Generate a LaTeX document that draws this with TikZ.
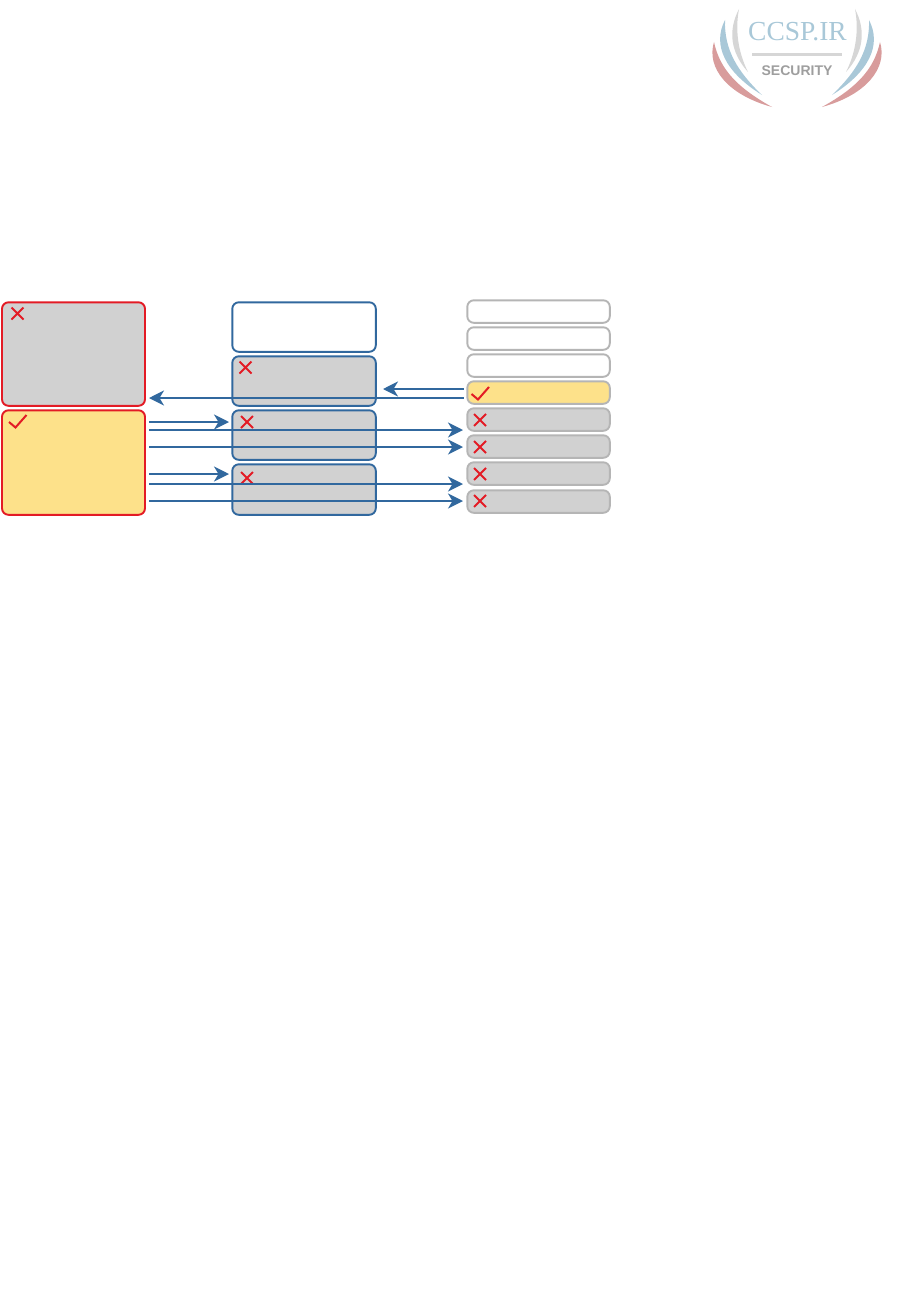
\documentclass[tikz,border=0pt]{standalone}
\usepackage{fontspec}
\setmainfont{Liberation Serif}
\newfontfamily\logosans{Liberation Sans}
\usetikzlibrary{arrows.meta}
\definecolor{cellgray}{HTML}{D1D1D1}
\definecolor{cellyellow}{HTML}{FDE18A}
\definecolor{markred}{HTML}{E31B25}
\definecolor{linkblue}{HTML}{31689E}
\definecolor{edgegray}{HTML}{B5B5B5}
\definecolor{logoblue}{HTML}{A9C8D8}
\definecolor{logored}{HTML}{D89C9C}
\definecolor{logogray}{HTML}{D6D6D6}
\tikzset{
  x=1pt,y=-1pt,
  cell/.style={draw,line width=1.9pt,rounded corners=6.5pt,anchor=north west,inner sep=0pt,outer sep=0pt},
  redcell/.style={cell,draw=markred,minimum width=143pt,minimum height=103.5pt},
  bluecell/.style={cell,draw=linkblue,minimum width=143.5pt,minimum height=49.5pt},
  graycell/.style={cell,draw=edgegray,minimum width=142.5pt,minimum height=22.5pt},
  link/.style={draw=linkblue,line width=1.8pt,-{Stealth[length=15pt,width=15pt,inset=4.5pt]}},
  xm/.pic={\draw[markred,line width=2pt] (-6,-6)--(6,6) (-6,6)--(6,-6);},
  ck/.pic={\draw[markred,line width=2pt] (-8.5,1)--(-2,6.5)--(9,-6);},
}
\begin{document}
\begin{tikzpicture}
\useasboundingbox (0,0) rectangle (909,1314);
% cells
\node[redcell,fill=cellgray] (r1) at (2,302.3) {};
\node[redcell,fill=cellyellow,minimum height=104.5pt] (r2) at (2,410.3) {};
\node[bluecell,fill=white] (b1) at (232.3,302.3) {};
\node[bluecell,fill=cellgray] (b2) at (232.3,356.3) {};
\node[bluecell,fill=cellgray] (b3) at (232.3,410.3) {};
\node[bluecell,fill=cellgray,minimum height=50.5pt] (b4) at (232.3,464.3) {};
\node[graycell,fill=white] (g1) at (467.3,300.3) {};
\node[graycell,fill=white] (g2) at (467.3,327.3) {};
\node[graycell,fill=white] (g3) at (467.3,354.3) {};
\node[graycell,fill=cellyellow] (g4) at (467.3,381.3) {};
\node[graycell,fill=cellgray] (g5) at (467.3,408.3) {};
\node[graycell,fill=cellgray] (g6) at (467.3,435.3) {};
\node[graycell,fill=cellgray] (g7) at (467.3,462.3) {};
\node[graycell,fill=cellgray] (g8) at (467.3,490.3) {};
% marks
\pic at (17.5,313.5) {xm};
\pic at (17.5,421) {ck};
\pic at (245.5,367.5) {xm};
\pic at (247,422) {xm};
\pic at (247,478) {xm};
\pic at (480,393) {ck};
\pic at (480,420) {xm};
\pic at (480,447) {xm};
\pic at (480,474) {xm};
\pic at (480,501) {xm};
% connector ends
\coordinate (e1) at (463.5,389); \coordinate (t1) at (383,389);
\coordinate (e2) at (463.5,398); \coordinate (t2) at (149,398);
\coordinate (s3) at (149,422); \coordinate (t3) at (229,422);
\coordinate (s4) at (149,430); \coordinate (t4) at (463,430);
\coordinate (s5) at (149,447); \coordinate (t5) at (463,447);
\coordinate (s6) at (149,474); \coordinate (t6) at (229,474);
\coordinate (s7) at (149,484); \coordinate (t7) at (463,484);
\coordinate (s8) at (149,501); \coordinate (t8) at (463,501);
\draw[link] (e1) -- (t1);
\draw[link] (e2) -- (t2);
\draw[link] (s3) -- (t3);
\draw[link] (s4) -- (t4);
\draw[link] (s5) -- (t5);
\draw[link] (s6) -- (t6);
\draw[link] (s7) -- (t7);
\draw[link] (s8) -- (t8);
% logo
\foreach \m/\o in {1/0,-1/1594}{
  \begin{scope}[xshift=\o pt,xscale=\m]
    \fill[logogray] (739,9) .. controls (728,30) and (730,52) .. (748,72)
                            .. controls (738,52) and (735,30) .. (739,9);
    \fill[logoblue] (725,20) .. controls (712,45) and (725,72) .. (762,95)
                             .. controls (738,72) and (724,50) .. (725,20);
    \fill[logored] (714,42) .. controls (706,68) and (728,95) .. (772,107)
                            .. controls (738,88) and (720,70) .. (714,42);
  \end{scope}
}
\node[text=logoblue,font=\fontsize{27.5}{27.5}\selectfont,inner sep=0pt] (logotext) at (797.5,32) {CCSP.IR};
\fill[logogray] (752,53.5) rectangle (842,56);
\node[text=black!38,font=\logosans\bfseries\fontsize{14}{14}\selectfont,inner sep=0pt] (logosub) at (797,71) {SECURITY};
\end{tikzpicture}
\end{document}
